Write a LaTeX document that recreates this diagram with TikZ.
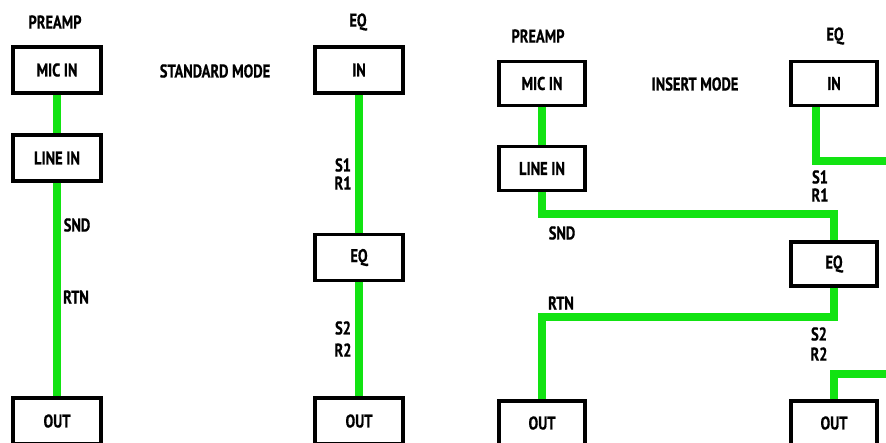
\documentclass[tikz,border=0pt]{standalone}
\usepackage{fontspec}
\setmainfont{PT Sans}[FakeStretch=0.78, BoldFeatures={FakeBold=0.6}]
\usepackage{xcolor}
\definecolor{wiregreen}{HTML}{12E312}

\tikzset{
  unit/.style={draw=black, fill=white, line width=3.5pt, minimum width=86pt,
               minimum height=44pt, inner sep=0pt},
  wire/.style={draw=wiregreen, line width=8pt},
  tag/.style={inner sep=0pt},
}

\begin{document}
\begin{tikzpicture}[x=1pt, y=-1pt, font=\fontsize{18.5}{22}\selectfont\bfseries]
\clip (0,0) rectangle (886,442);
\fill[white] (0,0) rectangle (886,442);

% standard mode
\node[tag] (pre1) at (55,22) {PREAMP};
\node[unit, minimum width=88pt, minimum height=46pt] (mic1) at (57,70) {MIC IN};
\node[unit, minimum width=88pt, minimum height=46pt] (line1) at (57,158) {LINE IN};
\node[unit, minimum width=88pt, minimum height=46pt] (out1) at (57,421) {OUT};
\node[tag] (mode1) at (215,71) {STANDARD MODE};
\node[tag] (eqhead1) at (358,22) {EQ};
\node[unit, minimum width=88pt, minimum height=46pt] (in1) at (359,70) {IN};
\node[unit, minimum width=88pt, minimum height=46pt] (eq1) at (359,257.5) {EQ};
\node[unit, minimum width=88pt, minimum height=46pt] (eqout1) at (359,421) {OUT};

\draw[wire] (mic1.south) -- (line1.north);
\draw[wire] (line1.south) -- (out1.north);
\draw[wire] (in1.south) -- (eq1.north);
\draw[wire] (eq1.south) -- (eqout1.north);

\node[tag] (snd1) at (77,225) {SND};
\node[tag] (rtn1) at (76,297) {RTN};
\node[tag] (s11) at (343,165) {S1};
\node[tag] (r11) at (343,183) {R1};
\node[tag] (s21) at (343,328) {S2};
\node[tag] (r21) at (343,350) {R2};

% insert mode
\node[tag] (pre2) at (538,36) {PREAMP};
\node[unit] (mic2) at (542,83.5) {MIC IN};
\node[unit] (line2) at (542,168.5) {LINE IN};
\node[unit] (out2) at (542,423) {OUT};
\node[tag] (mode2) at (695,84) {INSERT MODE};
\node[tag] (eqhead2) at (835,36) {EQ};
\node[unit] (in2) at (834,83.5) {IN};
\node[unit] (eq2) at (834,264) {EQ};
\node[unit] (eqout2) at (834,423) {OUT};
\coordinate (s1end) at (900,161);
\coordinate (r2end) at (900,374);

\draw[wire] (mic2.south) -- (line2.north);
\draw[wire] (line2.south) -- ++(0,22) -| (eq2.north);
\draw[wire] (eq2.south) -- ++(0,29) -| (out2.north);
\draw[wire] ([xshift=-18pt]in2.south) |- (s1end);
\draw[wire] (eqout2.north) |- (r2end);

\node[tag] (snd2) at (562,233) {SND};
\node[tag] (rtn2) at (561,303) {RTN};
\node[tag] (s12) at (820,177) {S1};
\node[tag] (r12) at (820,195) {R1};
\node[tag] (s22) at (819,334) {S2};
\node[tag] (r22) at (819,354) {R2};
\end{tikzpicture}
\end{document}
